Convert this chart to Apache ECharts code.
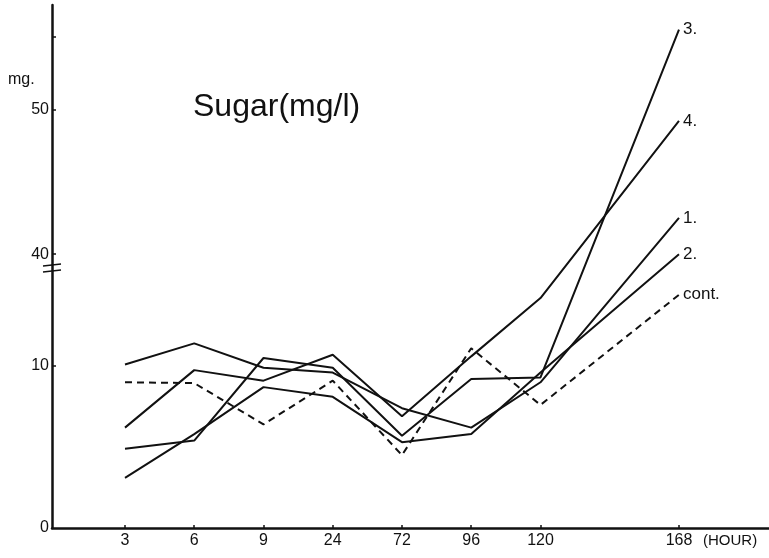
<!DOCTYPE html>
<html>
<head>
<meta charset="utf-8">
<script src="https://cdn.jsdelivr.net/npm/echarts@6/dist/echarts.min.js"></script>
<style>
  html, body { margin: 0; padding: 0; background: #fff; }
  #chart { width: 769px; height: 558px; }
</style>
</head>
<body>
<div id="chart"></div>
<script>
// ---- data (mg/l) ----
const hourLabels = ['3', '6', '9', '24', '72', '96', '120', '', '168'];
const hourSlots  = [0, 1, 2, 3, 4, 5, 6, 8];          // slot of each sample on the x axis
const s1   = [10.1, 11.4, 9.9, 9.6, 7.4, 6.2, 9.0, 42.5];
const s2   = [3.1, 5.8, 8.7, 8.1, 5.3, 5.8, 9.6, 40.0];
const s3   = [4.9, 5.4, 10.5, 9.9, 5.7, 9.2, 9.3, 55.5];
const s4   = [6.2, 9.75, 9.1, 10.7, 6.9, 10.6, 14.2, 49.2];
const cont = [9.0, 8.95, 6.4, 9.1, 4.5, 11.1, 7.6, 37.2];
const yTickValues = [0, 10, 40, 50];
const seriesNames = ['1.', '2.', '3.', '4.', 'cont.'];

// broken y axis: lower part 0..~16 linear, upper part (40+) compressed above the break
function brk(v) { return v < 20 ? v : 16.91 + (v - 40) * 0.895; }

const chart = echarts.init(document.getElementById('chart'), null, { renderer: 'canvas' });
const FONT = 'Liberation Sans';

function mk(name, vals, dashed) {
  return {
    name: name,
    type: 'line',
    data: vals.map((v, i) => [hourSlots[i], brk(v)]),
    symbol: 'none',
    lineStyle: { color: '#111', width: 2, type: dashed ? [7, 5] : 'solid' },
    endLabel: { show: true, formatter: name, color: '#111', fontSize: 17, fontFamily: FONT, distance: 4 },
    animation: false
  };
}

const xMin = -1.054, xMax = 9.30;
const option = {
  animation: false,
  grid: { left: 52, right: 0, top: 5, bottom: 30 },
  xAxis: {
    type: 'value', min: xMin, max: xMax,
    axisLine: { onZero: false, lineStyle: { color: '#111', width: 2.5 } },
    splitLine: { show: false },
    axisTick: { show: true, inside: true, length: 3, customValues: hourSlots, lineStyle: { color: '#111', width: 1.5 } },
    axisLabel: {
      customValues: hourSlots, color: '#111', fontSize: 16, fontFamily: FONT, margin: 5,
      formatter: v => hourLabels[Math.round(v)]
    },
    name: '(HOUR)', nameLocation: 'end', nameGap: -66,
    nameTextStyle: { color: '#111', fontSize: 15, fontFamily: FONT, verticalAlign: 'top', padding: [5, 0, 0, 0] }
  },
  yAxis: {
    type: 'value', min: 0, max: 32.3,
    axisLine: { show: true, onZero: false, lineStyle: { color: '#111', width: 2.5 } },
    splitLine: { show: false },
    axisTick: { show: true, inside: true, length: 4, customValues: [10, brk(40), brk(50), brk(55)], lineStyle: { color: '#111', width: 1.5 } },
    axisLabel: {
      customValues: yTickValues.map(brk), color: '#111', fontSize: 16, fontFamily: FONT, margin: 3,
      formatter: v => { const i = yTickValues.findIndex(t => Math.abs(brk(t) - v) < 0.01); return i >= 0 ? String(yTickValues[i]) : ''; }
    }
  },
  series: [mk(seriesNames[0], s1), mk(seriesNames[1], s2), mk(seriesNames[2], s3), mk(seriesNames[3], s4), mk(seriesNames[4], cont, true)]
};
chart.setOption(option);

// decorations: axis-break marks, unit label and title
const p = chart.convertToPixel({ gridIndex: 0 }, [xMin, 16.0]);
chart.setOption({
  graphic: [
    { type: 'line', shape: { x1: p[0] - 9, y1: p[1] - 3, x2: p[0] + 9, y2: p[1] - 5 }, style: { stroke: '#111', lineWidth: 1.6 } },
    { type: 'line', shape: { x1: p[0] - 9, y1: p[1] + 3, x2: p[0] + 9, y2: p[1] + 1 }, style: { stroke: '#111', lineWidth: 1.6 } },
    { type: 'text', x: 8, y: 80, style: { text: 'mg.', fill: '#111', font: '16px "Liberation Sans"', verticalAlign: 'middle' } },
    { type: 'text', x: 193, y: 107, style: { text: 'Sugar(mg/l)', fill: '#111', font: '32px "Liberation Sans"', verticalAlign: 'middle' } }
  ]
});
</script>
</body>
</html>
